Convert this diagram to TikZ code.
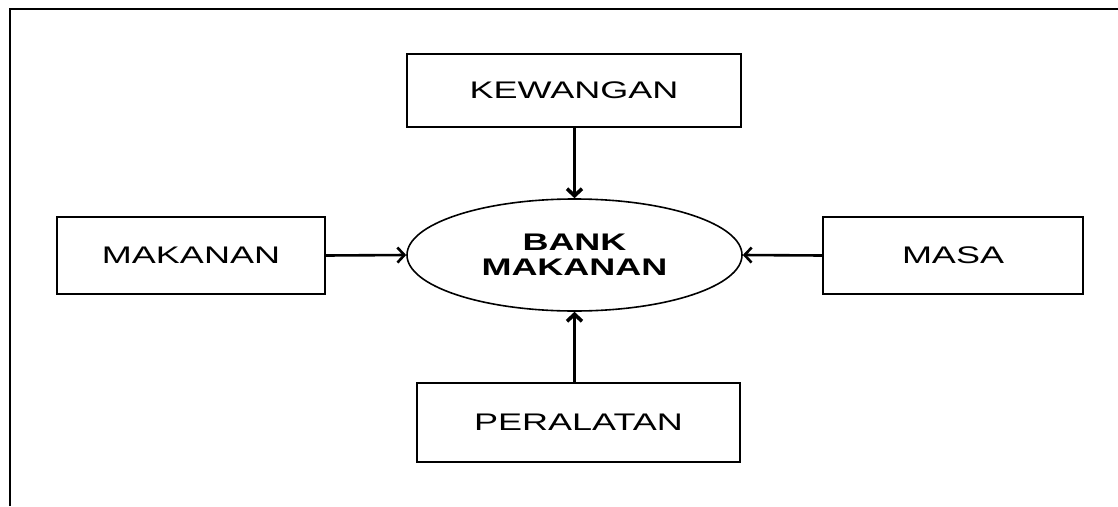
\documentclass[tikz,border=0pt]{standalone}
\usepackage{fontspec}
\usetikzlibrary{shapes.geometric,arrows.meta}
\newfontfamily\boxfont[FakeStretch=1.5]{Liberation Sans}

\begin{document}
\begin{tikzpicture}[x=1pt, y=-1pt,
    kotak/.style={rectangle, draw, line width=2pt, inner sep=0pt,
      font=\boxfont\fontsize{24}{25}\selectfont},
    pusat/.style={ellipse, draw, line width=1.6pt, inner sep=0pt,
      minimum width=335pt, minimum height=112pt, align=center,
      font=\boxfont\bfseries\fontsize{24}{25}\selectfont},
    >={Straight Barb[length=7pt, width=15pt]}]
  		\useasboundingbox (0,0) rectangle (1118,506);
  		% Frame
  		\draw[line width=2.4pt] (10,506) -- (10,9) -- (1118,9);
  		
  		% Nodes
  		\node[pusat] (bank) at (574.5,255) {BANK\\MAKANAN};
  		\node[kotak, minimum width=334pt, minimum height=73pt] (kewangan) at (574,90.5) {KEWANGAN};
  		\node[kotak, minimum width=268pt, minimum height=77pt] (makanan) at (191,255.5) {MAKANAN};
  		\node[kotak, minimum width=260pt, minimum height=77pt] (masa) at (953,255.5) {MASA};
  		\node[kotak, minimum width=323pt, minimum height=79pt] (peralatan) at (578.5,422.5) {PERALATAN};
  		
  		% Edges
  		\draw[->, line width=3.6pt] (kewangan.south -| bank.north) -- (bank.north);
  		\draw[->, line width=3.6pt] (peralatan.north -| bank.south) -- (bank.south);
  		\draw[->, line width=2.6pt] (makanan.east) -- (bank.west);
  		\draw[->, line width=2.6pt] (masa.west) -- (bank.east);
  	\end{tikzpicture}
\end{document}
